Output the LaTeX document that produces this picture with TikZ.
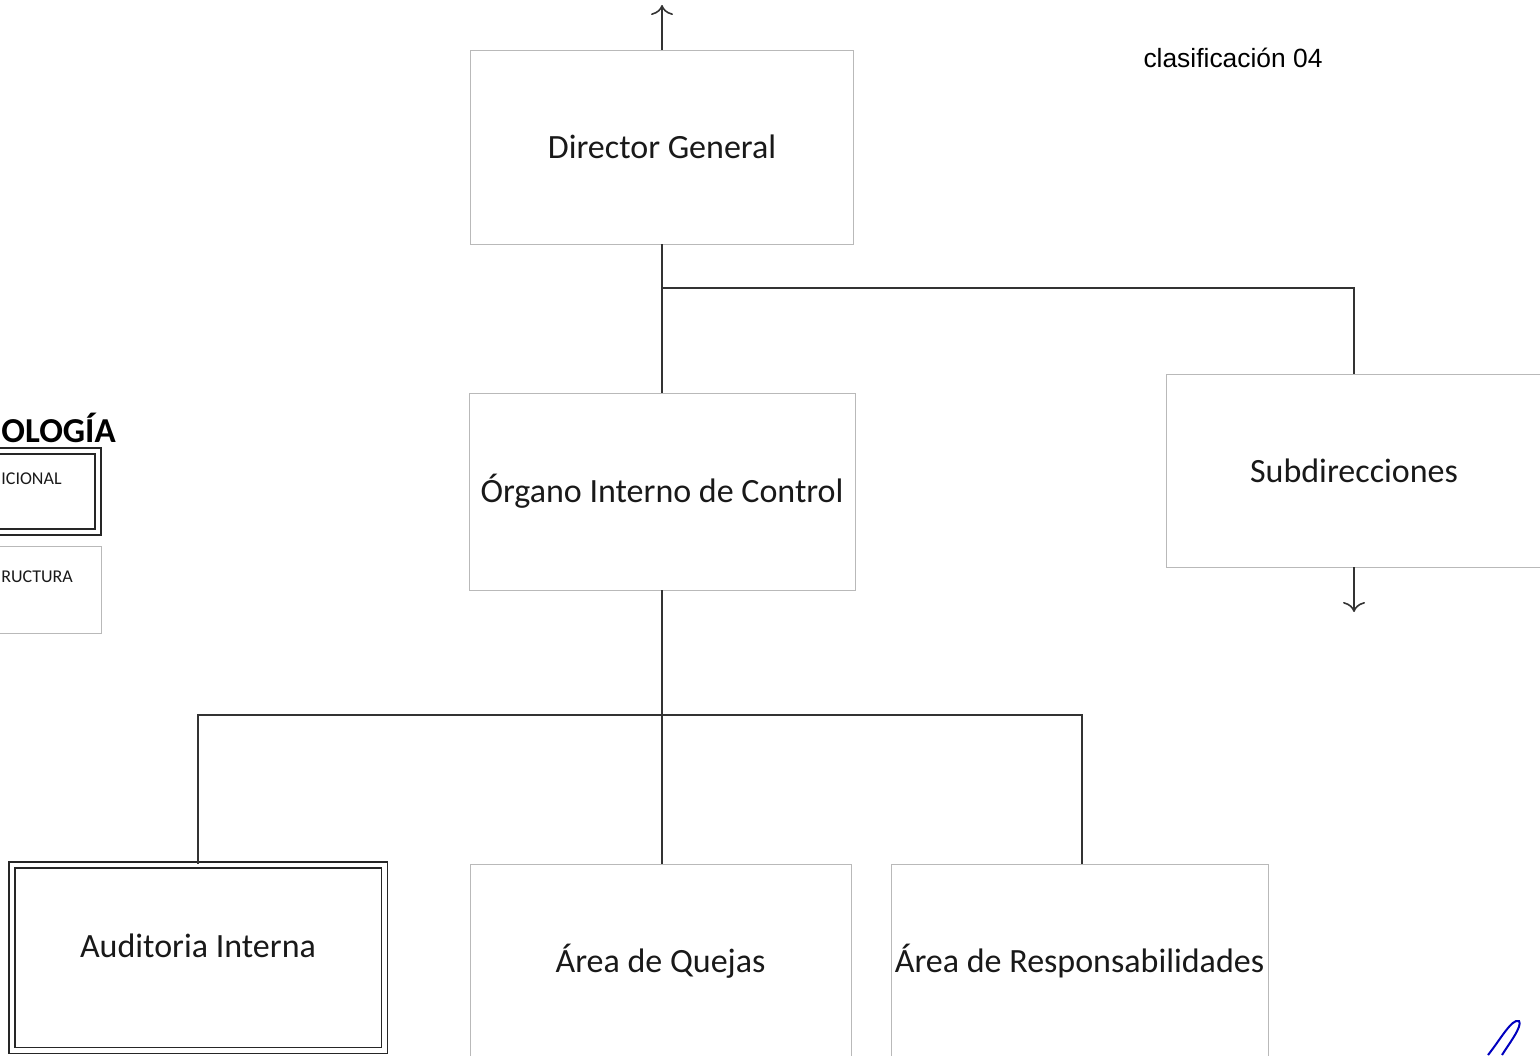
\documentclass[tikz,border=0pt]{standalone}
\usepackage{fontspec}
\setmainfont{Carlito}
\newfontfamily\arialfont{Liberation Sans}
\usetikzlibrary{arrows.meta}

\begin{document}
\begin{tikzpicture}[x=0.5pt,y=-0.5pt,
    caja/.style={draw=gray!55,line width=0.4pt,inner sep=0pt},
    cajadoble/.style={draw=black!85,double,double distance=2.3pt,line width=0.7pt,inner sep=0pt},
    linea/.style={draw=black!80,line width=0.8pt},
    flecha/.style={linea,-{To[length=5pt,width=11pt]}},
    texto/.style={font=\fontsize{17}{20}\selectfont,text=black!90},
    chico/.style={font=\fontsize{9}{11}\selectfont,text=black!90,inner sep=0pt}]
      \useasboundingbox (0,0) rectangle (1540,1055);
      \clip (0,0) rectangle (1540,1055);
      %Director
      \node[caja,minimum width=191.5pt,minimum height=97pt,texto] (dg) at (662,147) {Director General};
      \coordinate (arriba) at (662,5);
      \draw[flecha] (dg.north) -- (arriba);
      \node[font=\arialfont\fontsize{13.2}{15}\selectfont] (clasif) at (1233,58) {clasificación 04};
      %Organo
      \node[caja,minimum width=193pt,minimum height=98.5pt,texto] (oic) at (662,491.5) {Órgano Interno de Control};
      \draw[linea] (dg.south) -- (oic.north);
      %Subdirecciones
      \node[caja,minimum width=188pt,minimum height=96.5pt,texto] (sub) at (1354,470.5) {Subdirecciones};
      \coordinate (b1) at (662,288);
      \draw[linea] (b1) -| (sub.north);
      \coordinate (abajo) at (1354,612);
      \draw[flecha] (sub.south) -- (abajo);
      %Areas
      \node[cajadoble,minimum width=186.25pt,minimum height=92.75pt] (aud) at (198.25,957.75) {};
      \node[texto] (audt) at (198,946) {Auditoria Interna};
      \node[caja,minimum width=190.5pt,minimum height=97pt,texto] (quejas) at (660.5,961) {Área de Quejas};
      \node[caja,minimum width=188.5pt,minimum height=97pt,texto] (resp) at (1079.5,961) {Área de Responsabilidades};
      \draw[linea] (oic.south) -- (oic.south |- quejas.north);
      \coordinate (b2) at (660.5,715);
      \coordinate (b3) at (1082,715);
      \draw[linea] (b2) -| (aud.north);
      \draw[linea] (b2) -- (b3) -- (b3 |- resp.north);
      %Simbologia
      \node[anchor=west,inner sep=0pt,font=\bfseries\fontsize{17.5}{19}\selectfont] (simb) at (1,428) {OLOGÍA};
      \node[cajadoble,minimum width=100pt,minimum height=40.5pt] (leg1) at (-2,491.5) {};
      \node[anchor=west,chico] (leg1t) at (1,479) {ICIONAL};
      \node[caja,minimum width=100pt,minimum height=43.5pt] (leg2) at (1,589.5) {};
      \node[anchor=west,chico] (leg2t) at (1,577) {RUCTURA};
      %Firma
      \draw[blue!75!black,line width=1pt] (1488,1055) .. controls (1500,1040) and (1512,1018) .. (1519,1021) .. controls (1523,1026) and (1508,1045) .. (1502,1055);
\end{tikzpicture}
\end{document}
